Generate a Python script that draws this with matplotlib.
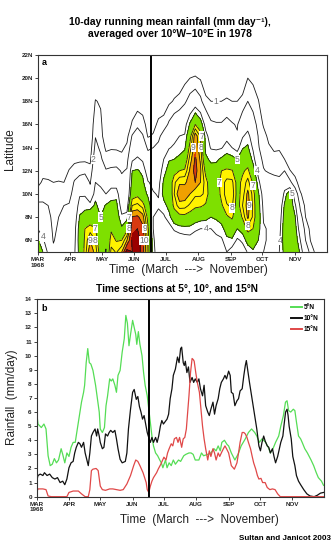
import numpy as np
import matplotlib
matplotlib.use('Agg')
import matplotlib.pyplot as plt

# ---------------- data ----------------
month_days = [0, 31, 61, 92, 122, 153, 184, 214, 245]
month_labels = ['MAR\n1968', 'APR', 'MAY', 'JUN', 'JUL', 'AUG', 'SEP', 'OCT', 'NOV']
onset_day = 107.5

# bottom panel series (day since 1 March, mm/day)
n5_days = [0, 1.3, 4.5, 7, 9, 11, 13, 15, 17, 19, 21, 23.5, 25, 27, 29, 31, 33, 35, 37, 39, 41.5, 43, 45, 46,
           47.5, 49, 50.5, 52, 54, 56.5, 60, 61, 63, 65, 66.5, 68, 70, 71.5, 73, 75, 76.5, 78, 80, 82, 84, 85.5,
           87, 88.5, 90, 92, 93.5, 95, 96, 97.5, 99, 101, 102.5, 104, 106, 107.5, 109, 110.5, 112, 114, 116, 118,
           119.5, 121, 123.5, 125, 127, 129, 131, 133, 136, 138, 141, 143, 146, 148, 150, 152, 155.5, 158, 160,
           164, 167, 170, 172, 174, 176, 177.5, 180, 182.5, 184, 186.6, 190, 193, 196, 200, 203, 206, 209, 211,
           213.5, 216, 219.5, 222, 224, 226.5, 229, 232, 234, 236.5, 238.5, 240, 241.5, 243.5, 246, 247.5, 249,
           251, 253, 254.5, 257, 259.5, 263, 265.5, 268, 270, 273, 275]
n5_vals = [6.0, 5.15, 4.9, 5.15, 4.8, 2.9, 2.2, 2.3, 2.7, 2.4, 2.6, 3.4, 3.0, 2.4, 3.1, 2.85, 3.5, 3.85, 3.85, 4.8,
           6.0, 6.7, 7.4, 7.9, 9.5, 10.5, 9.5, 9.4, 8.95, 7.9, 6.0, 4.8, 4.55, 4.9, 6.45, 7.15, 8.35, 8.2, 8.35,
           7.9, 7.4, 8.6, 8.95, 10.25, 11.2, 12.85, 12.3, 10.7, 11.5, 12.5, 12.0, 11.5, 10.8, 11.7, 10.8, 10.0,
           8.8, 7.9, 7.15, 6.2, 5.3, 4.3, 3.6, 3.1, 2.9, 2.6, 2.4, 2.05, 2.6, 2.05, 2.4, 2.2, 2.6, 2.3, 2.6, 2.5,
           2.9, 3.0, 3.1, 3.1, 3.0, 2.6, 2.6, 3.1, 2.9, 3.0, 3.1, 3.4, 3.25, 3.6, 3.25, 3.85, 4.0, 3.7, 3.6, 3.1,
           2.6, 3.0, 3.6, 4.1, 4.55, 4.8, 4.55, 4.3, 3.85, 4.1, 3.85, 3.5, 3.1, 3.4, 3.85, 4.3, 5.0, 5.75, 6.7,
           6.8, 6.1, 6.0, 6.2, 6.1, 5.3, 4.3, 4.1, 3.85, 3.4, 3.1, 2.6, 2.2, 1.7, 1.35, 1.1, 0.8]

n10_days = [0, 1.3, 3.5, 6, 7.5, 10, 12.5, 15, 17.5, 20, 22.5, 25, 27, 29, 31, 33, 35, 36.5, 38, 40, 41.5, 43, 45,
            46.5, 48, 49.5, 51, 52.5, 54, 56, 57.5, 58.5, 60, 61, 63, 64.5, 66, 68, 69.5, 71, 73, 75, 76.5, 78, 80,
            82, 85, 86.5, 88, 90, 92, 93.5, 95.5, 97, 98.5, 100, 101.5, 103, 104.5, 106, 107, 109, 110.5, 112,
            114, 115.5, 117, 118.6, 120, 121.5, 123, 125, 126.5, 128, 129.7, 131, 133, 135, 136.5, 138, 139,
            140.5, 141.5, 142.5, 144, 145.5, 147, 149, 150.5, 152, 154, 155.5, 157, 159, 160.5, 162, 164, 165.5,
            167, 169, 170.5, 172, 174, 175.5, 177, 179, 180.5, 182, 184, 185.5, 186.6, 188.3, 190, 192, 193.5,
            195, 197, 198.6, 200, 201, 202.5, 204, 206, 207.5, 209, 211, 213, 214.5, 216, 217.6, 219, 221, 222.5,
            224, 226, 227.5, 229, 231, 232.6, 234, 236, 237, 238.6, 240, 241, 242, 244, 245.5, 247.5, 249, 251,
            253, 256, 259, 262, 266, 269, 272, 275]
n10_vals = [1.1, 1.5, 1.6, 1.5, 1.7, 1.5, 1.6, 1.35, 1.25, 1.35, 1.0, 1.1, 0.85, 1.25, 2.05, 2.4, 2.5, 3.1, 3.5,
            3.85, 3.75, 3.5, 3.85, 3.1, 2.65, 2.2, 3.1, 4.3, 4.55, 4.8, 4.3, 4.8, 4.3, 3.85, 3.4, 3.5, 4.45, 4.3,
            4.55, 4.7, 4.55, 4.7, 4.1, 3.4, 2.65, 2.4, 2.5, 3.1, 4.8, 6.2, 7.4, 7.6, 6.9, 7.1, 6.4, 6.0, 5.5, 5.75,
            5.15, 4.55, 4.3, 3.85, 4.2, 3.85, 4.2, 3.85, 4.3, 5.0, 5.4, 5.15, 5.3, 5.5, 5.85, 6.95, 7.65, 8.6,
            9.05, 9.9, 9.5, 10.5, 10.6, 9.5, 9.3, 9.6, 8.8, 9.2, 8.1, 8.45, 8.1, 8.35, 8.1, 8.35, 7.65, 7.15, 7.9,
            6.45, 6.0, 5.75, 6.2, 6.7, 5.85, 6.45, 6.95, 7.65, 8.1, 8.35, 8.6, 8.35, 8.9, 8.6, 7.4, 7.3, 6.45,
            6.8, 6.95, 7.5, 7.65, 8.6, 9.3, 9.65, 8.85, 8.1, 7.15, 6.45, 5.75, 4.8, 3.6, 3.25, 3.85, 4.3, 3.95,
            3.6, 3.5, 3.1, 3.4, 2.85, 2.4, 2.85, 3.4, 3.85, 4.3, 5.0, 6.0, 6.2, 5.75, 5.0, 4.1, 2.85, 2.2, 1.5,
            1.1, 0.85, 0.5, 0.2, 0.05, 0.0, 0.1, 0.25, 0.3]

n15_days = [0, 1.3, 6, 9, 11, 14, 29, 31, 35, 40, 43, 46.5, 49.5, 51, 52.5, 54, 57, 59, 61, 63, 66, 70, 73, 76.5,
            80, 83, 86.5, 90, 93, 95, 97, 99, 102, 105, 106, 107.5, 109, 110.5, 112, 115, 116.5, 119, 120.5, 122,
            124, 125.5, 127, 129, 130.5, 132, 134, 135.5, 137, 139, 140.5, 142, 143.5, 144.5, 146, 147.5, 149,
            150.3, 151, 152.5, 154, 156, 157.5, 159, 160.5, 162, 164, 165.5, 167, 169, 170.5, 172, 174, 175.5,
            177, 179, 180.5, 182, 184, 186.6, 189.5, 192, 193.5, 195, 197, 198.6, 200, 201.6, 203, 205, 206.6,
            208, 210, 211.6, 213, 215, 216.6, 219, 221, 223.5, 226, 228.5, 231, 233.5, 275]
n15_vals = [0.3, 0.55, 0.55, 0.5, 0.05, 0.0, 0.0, 0.3, 0.4, 0.4, 0.2, 0.0, 0.0, 0.5, 1.85, 1.95, 2.0, 1.85, 0.75,
            0.5, 0.45, 0.55, 0.55, 0.5, 0.45, 0.5, 0.9, 1.5, 2.2, 2.6, 2.5, 2.2, 1.7, 1.0, 0.5, 0.3, 0.75, 1.1,
            1.35, 1.7, 1.95, 2.3, 2.55, 2.8, 2.6, 3.1, 3.4, 3.75, 3.6, 4.1, 4.2, 3.85, 4.2, 3.5, 4.1, 4.2, 4.8,
            5.75, 7.15, 8.8, 9.8, 9.7, 9.6, 8.8, 8.1, 7.4, 6.2, 5.0, 4.1, 3.4, 2.6, 3.25, 2.85, 3.4, 3.1, 2.6,
            3.1, 2.85, 3.1, 3.4, 3.6, 3.4, 3.1, 2.2, 1.95, 2.4, 3.1, 3.85, 4.55, 4.55, 4.45, 4.2, 3.85, 3.4, 2.85,
            2.4, 1.95, 1.5, 1.25, 1.3, 1.0, 1.0, 0.65, 0.5, 0.55, 0.5, 0.2, 0.0, 0.0]

# top panel: latitude-time field, one row per latitude, columns every 5 days from 1 March
grid_days = list(range(0, 280, 5))
grid_lats = [5, 6, 7, 8, 9, 10, 11, 12, 13, 14, 15, 16, 18, 20, 22]
lat05 = [6.0, 5.0, 3.8, 2.3, 2.5, 3.0, 3.0, 3.85, 5.4, 7.4, 9.8, 8.6, 6.0, 4.9, 8.35, 7.9, 8.95, 11.5, 11.0, 11.6,
         10.5, 7.5, 4.5, 3.0, 2.3, 2.1, 2.4, 2.5, 2.8, 3.1, 3.0, 2.6, 2.9, 3.0, 3.4, 3.4, 4.0, 3.4, 2.6, 3.4, 4.1,
         4.8, 4.4, 4.0, 3.7, 3.3, 4.0, 5.4, 6.8, 6.1, 4.8, 2.8, 1.6, 0.7, 0.3, 0.2]
lat06 = [5.2, 4.2, 3.2, 1.9, 2.4, 2.8, 2.8, 3.7, 5.6, 7.2, 9.0, 8.0, 5.5, 5.3, 7.5, 6.9, 7.0, 9.0, 11.2, 11.4,
         10.6, 7.6, 4.3, 2.8, 2.5, 2.6, 3.0, 3.2, 3.4, 3.5, 3.3, 3.0, 3.2, 3.3, 3.7, 3.8, 4.7, 4.8, 3.8, 4.2, 5.6,
         5.8, 5.0, 4.2, 3.8, 3.4, 3.8, 5.7, 6.6, 5.8, 4.0, 2.0, 0.9, 0.4, 0.2, 0.2]
lat07 = [4.0, 3.5, 2.8, 1.7, 2.2, 2.6, 2.6, 3.6, 5.5, 7.0, 7.5, 7.0, 5.2, 5.6, 6.8, 6.2, 5.2, 6.5, 10.8, 11.0,
         10.3, 7.2, 4.0, 3.0, 3.0, 3.4, 4.2, 4.5, 4.6, 4.6, 4.2, 4.0, 4.0, 4.0, 4.3, 4.6, 5.6, 6.0, 5.0, 5.6, 7.6,
         7.0, 5.4, 4.1, 3.9, 3.5, 3.5, 5.8, 6.3, 5.5, 3.2, 1.6, 0.7, 0.3, 0.1, 0.1]
lat08 = [3.0, 2.8, 2.4, 1.6, 2.0, 2.4, 2.4, 3.3, 5.1, 5.6, 6.0, 6.0, 5.0, 5.5, 6.0, 5.8, 4.2, 4.5, 10.1, 10.2,
         9.5, 6.5, 4.0, 3.5, 3.8, 4.6, 6.0, 6.5, 6.6, 6.3, 5.8, 5.5, 5.4, 5.0, 5.2, 5.6, 6.8, 7.2, 5.8, 7.2, 9.2,
         7.8, 5.6, 3.9, 3.9, 3.5, 3.2, 5.6, 6.1, 5.1, 2.5, 1.0, 0.4, 0.2, 0.1, 0.1]
lat09 = [2.3, 2.2, 2.0, 1.5, 1.7, 2.0, 2.1, 3.0, 4.5, 4.6, 4.5, 5.2, 4.6, 5.1, 5.3, 5.3, 3.4, 3.3, 8.0, 8.3,
         7.6, 5.6, 4.1, 4.2, 4.6, 5.4, 7.4, 8.5, 8.4, 7.8, 7.3, 7.2, 6.8, 5.6, 5.8, 6.8, 7.9, 8.2, 6.3, 8.0, 9.5,
         7.8, 5.5, 3.7, 3.8, 3.4, 2.9, 5.2, 6.0, 4.3, 1.7, 0.8, 0.2, 0.1, 0.0, 0.1]
lat10 = [1.3, 1.55, 1.5, 1.35, 1.35, 1.3, 1.6, 2.5, 3.85, 3.85, 2.5, 4.7, 4.3, 4.0, 4.6, 4.7, 2.65, 2.5, 6.2, 6.6,
         5.6, 4.8, 4.1, 3.9, 5.4, 5.5, 8.0, 9.9, 9.8, 9.0, 8.2, 8.2, 7.8, 5.9, 6.0, 7.4, 8.5, 8.7, 6.45, 7.5, 9.3,
         7.6, 5.2, 3.4, 3.8, 3.2, 2.6, 4.3, 6.1, 2.8, 1.1, 0.6, 0.15, 0.0, 0.0, 0.1]
lat11 = [0.8, 1.1, 1.1, 1.0, 1.05, 1.0, 1.3, 2.1, 2.6, 2.8, 1.9, 4.0, 3.8, 3.0, 3.4, 3.3, 2.3, 2.3, 5.5, 5.8,
         5.2, 4.1, 3.7, 3.6, 5.2, 5.8, 7.8, 8.8, 8.8, 9.5, 10.0, 9.0, 7.5, 6.0, 6.1, 7.6, 8.3, 8.3, 6.5, 7.3, 8.4,
         6.8, 4.4, 2.8, 2.9, 2.5, 2.2, 3.3, 2.3, 1.3, 0.6, 0.3, 0.0, 0.0, 0.0, 0.0]
lat12 = [0.5, 0.8, 0.7, 0.6, 0.6, 0.6, 1.05, 1.5, 1.6, 1.7, 1.3, 3.3, 3.0, 2.1, 2.2, 2.3, 1.9, 2.1, 5.0, 5.1,
         4.8, 3.2, 3.1, 3.2, 4.6, 5.5, 6.5, 7.0, 7.2, 9.2, 10.4, 9.2, 6.5, 5.6, 5.5, 7.0, 7.3, 7.1, 6.0, 6.8, 7.3,
         5.7, 3.5, 2.1, 1.8, 1.7, 1.8, 2.0, 1.05, 0.7, 0.3, 0.0, 0.0, 0.0, 0.0, 0.0]
lat13 = [0.4, 0.6, 0.5, 0.3, 0.3, 0.3, 0.6, 0.7, 0.8, 0.8, 0.8, 2.8, 2.2, 1.4, 1.5, 1.4, 1.3, 1.6, 3.8, 4.2,
         3.8, 2.6, 2.6, 2.8, 4.0, 4.9, 5.0, 5.3, 5.8, 8.5, 10.2, 8.8, 5.3, 4.7, 4.8, 5.2, 5.5, 5.4, 5.0, 5.8, 6.2,
         4.6, 2.6, 1.7, 1.4, 1.2, 1.3, 1.0, 0.5, 0.3, 0.1, 0.0, 0.0, 0.0, 0.0, 0.0]
lat14 = [0.3, 0.5, 0.4, 0.2, 0.0, 0.1, 0.3, 0.4, 0.5, 0.5, 0.5, 2.3, 1.8, 0.8, 0.9, 0.9, 0.8, 1.2, 2.7, 3.2,
         2.8, 1.8, 2.0, 2.3, 3.3, 3.9, 4.2, 4.5, 4.8, 7.5, 9.9, 8.3, 4.6, 3.9, 3.8, 3.9, 4.5, 4.0, 3.5, 4.9, 5.2,
         3.8, 2.1, 1.5, 1.1, 0.9, 0.9, 0.5, 0.2, 0.1, 0.0, 0.0, 0.0, 0.0, 0.0, 0.0]
lat15 = [0.3, 0.55, 0.3, 0.0, 0.0, 0.0, 0.1, 0.4, 0.4, 0.1, 0.2, 1.95, 1.3, 0.45, 0.55, 0.5, 0.45, 0.7, 2.1, 2.5,
         2.1, 0.9, 1.1, 1.7, 2.55, 3.0, 3.6, 4.0, 4.1, 6.5, 9.7, 7.8, 4.5, 3.2, 3.1, 2.9, 3.6, 2.9, 2.1, 3.85,
         4.45, 3.2, 1.95, 1.3, 0.8, 0.5, 0.3, 0.0, 0.0, 0.0, 0.0, 0.0, 0.0, 0.0, 0.0, 0.0]
lat16 = [0.2, 0.4, 0.2, 0.0, 0.0, 0.0, 0.0, 0.2, 0.3, 0.0, 0.1, 1.7, 1.2, 0.3, 0.4, 0.3, 0.3, 0.5, 1.1, 1.8,
         1.4, 0.6, 0.7, 1.2, 1.4, 2.2, 2.8, 3.2, 3.5, 5.2, 7.0, 5.8, 3.4, 2.2, 2.1, 2.1, 2.4, 2.1, 1.9, 3.0, 3.4,
         2.6, 1.6, 0.9, 0.6, 0.3, 0.2, 0.0, 0.0, 0.0, 0.0, 0.0, 0.0, 0.0, 0.0, 0.0]
lat18 = [0.1, 0.2, 0.1, 0.0, 0.0, 0.0, 0.0, 0.1, 0.1, 0.0, 0.0, 1.05, 0.9, 0.1, 0.1, 0.1, 0.1, 0.2, 0.5, 0.4,
         0.4, 0.2, 0.2, 0.4, 0.4, 0.8, 1.1, 1.3, 1.8, 2.5, 3.0, 2.3, 1.2, 1.0, 1.0, 1.0, 1.1, 1.0, 1.0, 1.2, 2.0,
         1.5, 1.05, 0.4, 0.2, 0.1, 0.0, 0.0, 0.0, 0.0, 0.0, 0.0, 0.0, 0.0, 0.0, 0.0]
lat20 = [0.0, 0.1, 0.0, 0.0, 0.0, 0.0, 0.0, 0.0, 0.0, 0.0, 0.0, 0.3, 0.2, 0.0, 0.0, 0.0, 0.0, 0.0, 0.1, 0.1,
         0.1, 0.0, 0.0, 0.1, 0.2, 0.2, 0.3, 0.4, 0.7, 1.0, 1.1, 0.9, 0.4, 0.3, 0.3, 0.3, 0.4, 0.3, 0.3, 0.5, 1.0,
         0.8, 0.4, 0.1, 0.0, 0.0, 0.0, 0.0, 0.0, 0.0, 0.0, 0.0, 0.0, 0.0, 0.0, 0.0]
lat22 = [0.0] * 56

rows = [lat05, lat06, lat07, lat08, lat09, lat10, lat11, lat12, lat13, lat14, lat15, lat16, lat18, lat20, lat22]
field = np.array(rows)

fill_levels = [5, 7, 9, 10, 11, 100]
fill_colors = ['#7ee000', '#fff200', '#f0a000', '#d83a10', '#9a0000']
line_levels = [1, 2, 4, 5, 7, 8, 9, 10, 11]

# ---------------- figure ----------------
plt.rcParams['font.family'] = ['Liberation Sans', 'DejaVu Sans']
fig = plt.figure(figsize=(3.36, 5.44), dpi=100)
ax1 = fig.add_axes([0.112, 0.537, 0.860, 0.362])
ax2 = fig.add_axes([0.109, 0.087, 0.854, 0.363])

X, Y = np.meshgrid(grid_days, grid_lats)
ax1.contourf(X, Y, field, levels=fill_levels, colors=fill_colors)
cs = ax1.contour(X, Y, field, levels=line_levels, colors='#1a1a1a', linewidths=0.6)
labs = ax1.clabel(cs, fmt='%d', fontsize=6.2, colors='#707070', inline=True, inline_spacing=1)
for t in labs:
    t.set_rotation(0)
    t.set_bbox(dict(facecolor='white', edgecolor='none', pad=0.1))

# drop contour labels that would collide with an already kept one
fig.canvas.draw()
renderer = fig.canvas.get_renderer()
kept = []
for t in labs:
    bb = t.get_window_extent(renderer).expanded(1.05, 1.05)
    if any(bb.overlaps(k) for k in kept):
        t.set_visible(False)
    else:
        kept.append(bb)

ax1.axvline(onset_day, color='black', lw=1.4)
ax1.set_xlim(0, 275)
ax1.set_ylim(5, 22)
ax1.set_yticks(range(6, 23, 2))
ax1.set_yticklabels([f'{v}N' for v in range(6, 23, 2)])
ax1.text(0.015, 0.985, 'a', transform=ax1.transAxes, ha='left', va='top', fontsize=6.5, fontweight='bold')

ax2.plot(n5_days, n5_vals, color='#55dd55', lw=0.9, label='5°N')
ax2.plot(n10_days, n10_vals, color='#111111', lw=0.9, label='10°N')
ax2.plot(n15_days, n15_vals, color='#e04848', lw=0.9, label='15°N')
ax2.axvline(onset_day, color='black', lw=1.4)
ax2.set_xlim(0, 275)
ax2.set_ylim(0, 14)
ax2.set_yticks(range(0, 15))
ax2.text(0.015, 0.975, 'b', transform=ax2.transAxes, ha='left', va='top', fontsize=6.5, fontweight='bold')
leg = ax2.legend(loc='upper right', frameon=False, prop={'size': 4.8, 'weight': 'bold'},
                 handlelength=1.6, handletextpad=0.3, labelspacing=0.6, borderaxespad=0.3)
for h in leg.get_lines():
    h.set_linewidth(1.4)

for ax in (ax1, ax2):
    ax.set_xticks(month_days)
    ax.set_xticklabels(month_labels)
    ax.tick_params(axis='both', labelsize=4.5, length=2, width=0.6, pad=1.5, colors='#222222')
    for lab in ax.get_xticklabels() + ax.get_yticklabels():
        lab.set_fontweight('bold')
    for sp in ax.spines.values():
        sp.set_linewidth(0.8)
        sp.set_color('#333333')

fig.text(0.505, 0.959, '10-day running mean rainfall (mm day⁻¹),', ha='center', va='center',
         fontsize=7.4, fontweight='bold')
fig.text(0.505, 0.938, 'averaged over 10°W–10°E in 1978', ha='center', va='center',
         fontsize=7.4, fontweight='bold')
fig.text(0.03, 0.725, 'Latitude', rotation=90, ha='center', va='center', fontsize=8.5, color='#222222')
fig.text(0.56, 0.503, 'Time  (March  --->  November)', ha='center', va='center', fontsize=8.5, color='#222222')
fig.text(0.527, 0.470, 'Time sections at 5°, 10°, and 15°N', ha='center', va='center', fontsize=7.3,
         fontweight='bold')
fig.text(0.036, 0.27, 'Rainfall  (mm/day)', rotation=90, ha='center', va='center', fontsize=8.5, color='#222222')
fig.text(0.595, 0.044, 'Time  (March  --->  November)', ha='center', va='center', fontsize=8.5, color='#222222')
fig.text(0.985, 0.011, 'Sultan and Janicot 2003', ha='right', va='center', fontsize=5.8, fontweight='bold')

fig.savefig('out.png', dpi=100)
